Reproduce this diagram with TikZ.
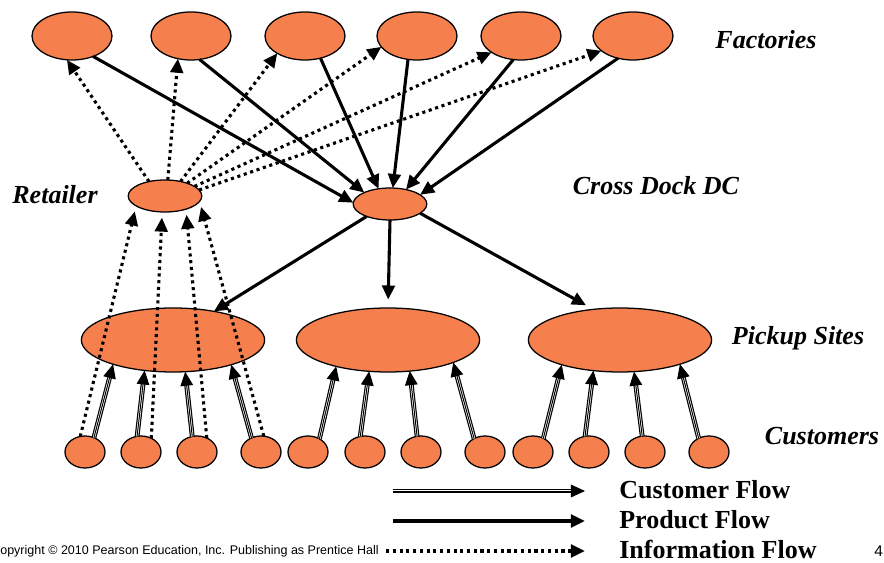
\documentclass[tikz,border=0pt]{standalone}
\usepackage{fontspec}
\setmainfont{Liberation Serif}
\setsansfont{Liberation Sans}
\usetikzlibrary{arrows.meta, shapes.geometric, positioning}
\definecolor{Site-orange}{RGB}{245,128,77}

\begin{document}
\begin{tikzpicture}[x=0.025cm, y=-0.025cm]
        \tikzset{ site/.style ={ellipse, draw=black, line width=0.9pt, inner sep=0pt, outer sep=0pt, fill=Site-orange} }
        \tikzset{ fac/.style  ={site, minimum width=2cm,    minimum height=1.2cm} }
        \tikzset{ dc/.style   ={site, minimum width=1.84cm, minimum height=0.8cm} }
        \tikzset{ pick/.style ={site, minimum width=4.58cm, minimum height=1.6cm} }
        \tikzset{ cst/.style  ={site, minimum width=1cm,    minimum height=0.8cm} }

        \tikzstyle{prod}=[->,>={Triangle[length=10pt,width=9pt]}, line width=2.2pt]
        \tikzstyle{info}=[->,>={Triangle[length=10pt,width=9pt]}, line width=2.2pt, dash pattern=on 2.2pt off 2.6pt]
        \tikzstyle{cust}=[->,>={Triangle[length=10pt,width=9pt]}, line width=0.7pt,
                          preaction={draw, -, double=white, double distance=1.7pt, line width=0.85pt, shorten >=7pt}]
        \tikzstyle{lbl}=[font=\fontsize{18.5}{22}\selectfont\bfseries\itshape]
        \tikzstyle{leg}=[font=\fontsize{18.5}{22}\selectfont\bfseries, anchor=west, inner sep=0pt]

        \useasboundingbox (0,0) rectangle (884,563);

        \node[fac] (f0) at (72,36) {};
        \node[fac] (f1) at (191,36) {};
        \node[fac] (f2) at (305,36) {};
        \node[fac] (f3) at (417,36) {};
        \node[fac] (f4) at (521,36) {};
        \node[fac] (f5) at (633,36) {};

        \node[dc] (ret) at (165,196) {};
        \node[dc] (xd)  at (390,204) {};

        \node[pick] (p0) at (173,340) {};
        \node[pick] (p1) at (388,340) {};
        \node[pick] (p2) at (620,340) {};

        \node[cst] (c0)  at (85,452) {};
        \node[cst] (c1)  at (141,452) {};
        \node[cst] (c2)  at (197,452) {};
        \node[cst] (c3)  at (261,452) {};
        \node[cst] (c4)  at (308,452) {};
        \node[cst] (c5)  at (365,452) {};
        \node[cst] (c6)  at (421,452) {};
        \node[cst] (c7)  at (485,452) {};
        \node[cst] (c8)  at (533,452) {};
        \node[cst] (c9)  at (589,452) {};
        \node[cst] (c10) at (645,452) {};
        \node[cst] (c11) at (709,452) {};

        \node[lbl] (lfac) at (766,40) {Factories};
        \node[lbl] (lret) at (55,195) {Retailer};
        \node[lbl] (lxd)  at (656,186) {Cross Dock DC};
        \node[lbl] (lpck) at (798,338) {Pickup Sites};
        \node[lbl] (lcst) at (822,436) {Customers};

        % product flow
        \draw[prod] (f0.316) -- (xd.178);
        \draw[prod] (f1.290) -- (xd.156);
        \draw[prod] (f2.305) -- (xd.127);
        \draw[prod] (f3.249) -- (xd.80);
        \draw[prod] (f4.252) -- (xd.42);
        \draw[prod] (f5.236) -- (xd.17);
        \draw[prod] (xd.208) -- (p0.35);
        \draw[prod, shorten >=6pt] (xd.270) -- (p1.90);
        \draw[prod, shorten >=6pt] (xd.343) -- (p2.131);

        % information flow
        \draw[info] (ret.138) -- (f0.258);
        \draw[info] (ret.80)  -- (f1.240);
        \draw[info] (ret.43)  -- (f2.212);
        \draw[info] (ret.30)  -- (f3.197);
        \draw[info] (ret.18)  -- (f4.209);
        \draw[info] (ret.10)  -- (f5.205);
        \draw[info, shorten >=4pt] (c0.107) -- (ret.199);
        \draw[info, shorten >=4pt] (c1.53)  -- (ret.260);
        \draw[info, shorten >=4pt] (c2.55)  -- (ret.328);
        \draw[info, shorten >=4pt] (c3.80)  -- (ret.351);

        % customer flow
        \draw[cust] (c0.58)   -- (p0.202);
        \draw[cust] (c1.104)  -- (p0.227);
        \draw[cust] (c2.107)  -- (p0.291);
        \draw[cust] (c3.124)  -- (p0.337);
        \draw[cust] (c4.49)   -- (p1.207);
        \draw[cust] (c5.107)  -- (p1.239);
        \draw[cust] (c6.104)  -- (p1.305);
        \draw[cust] (c7.129)  -- (p1.341);
        \draw[cust] (c8.53)   -- (p2.203);
        \draw[cust] (c9.104)  -- (p2.229);
        \draw[cust] (c10.100) -- (p2.294);
        \draw[cust] (c11.127) -- (p2.338);

        % legend
        \coordinate (cf-s) at (393,491);
        \coordinate (cf-e) at (585,491);
        \coordinate (pf-s) at (393,521);
        \coordinate (pf-e) at (585,521);
        \coordinate (if-s) at (386,551);
        \coordinate (if-e) at (585,551);
        \draw[cust] (cf-s) -- (cf-e);
        \draw[prod] (pf-s) -- (pf-e);
        \draw[info] (if-s) -- (if-e);
        \node[leg] (lcf) at (619,490) {Customer Flow};
        \node[leg] (lpf) at (619,520) {Product Flow};
        \node[leg] (lif) at (619,549) {Information Flow};

        \node[font=\sffamily\fontsize{8.9}{10}\selectfont, anchor=west, inner sep=0pt] (copy) at (-9,551) {Copyright © 2010 Pearson Education, Inc. Publishing as Prentice Hall};
        \node[font=\sffamily\fontsize{11}{12}\selectfont, anchor=west, inner sep=0pt] (pg) at (874,551) {4};
\end{tikzpicture}
\end{document}
